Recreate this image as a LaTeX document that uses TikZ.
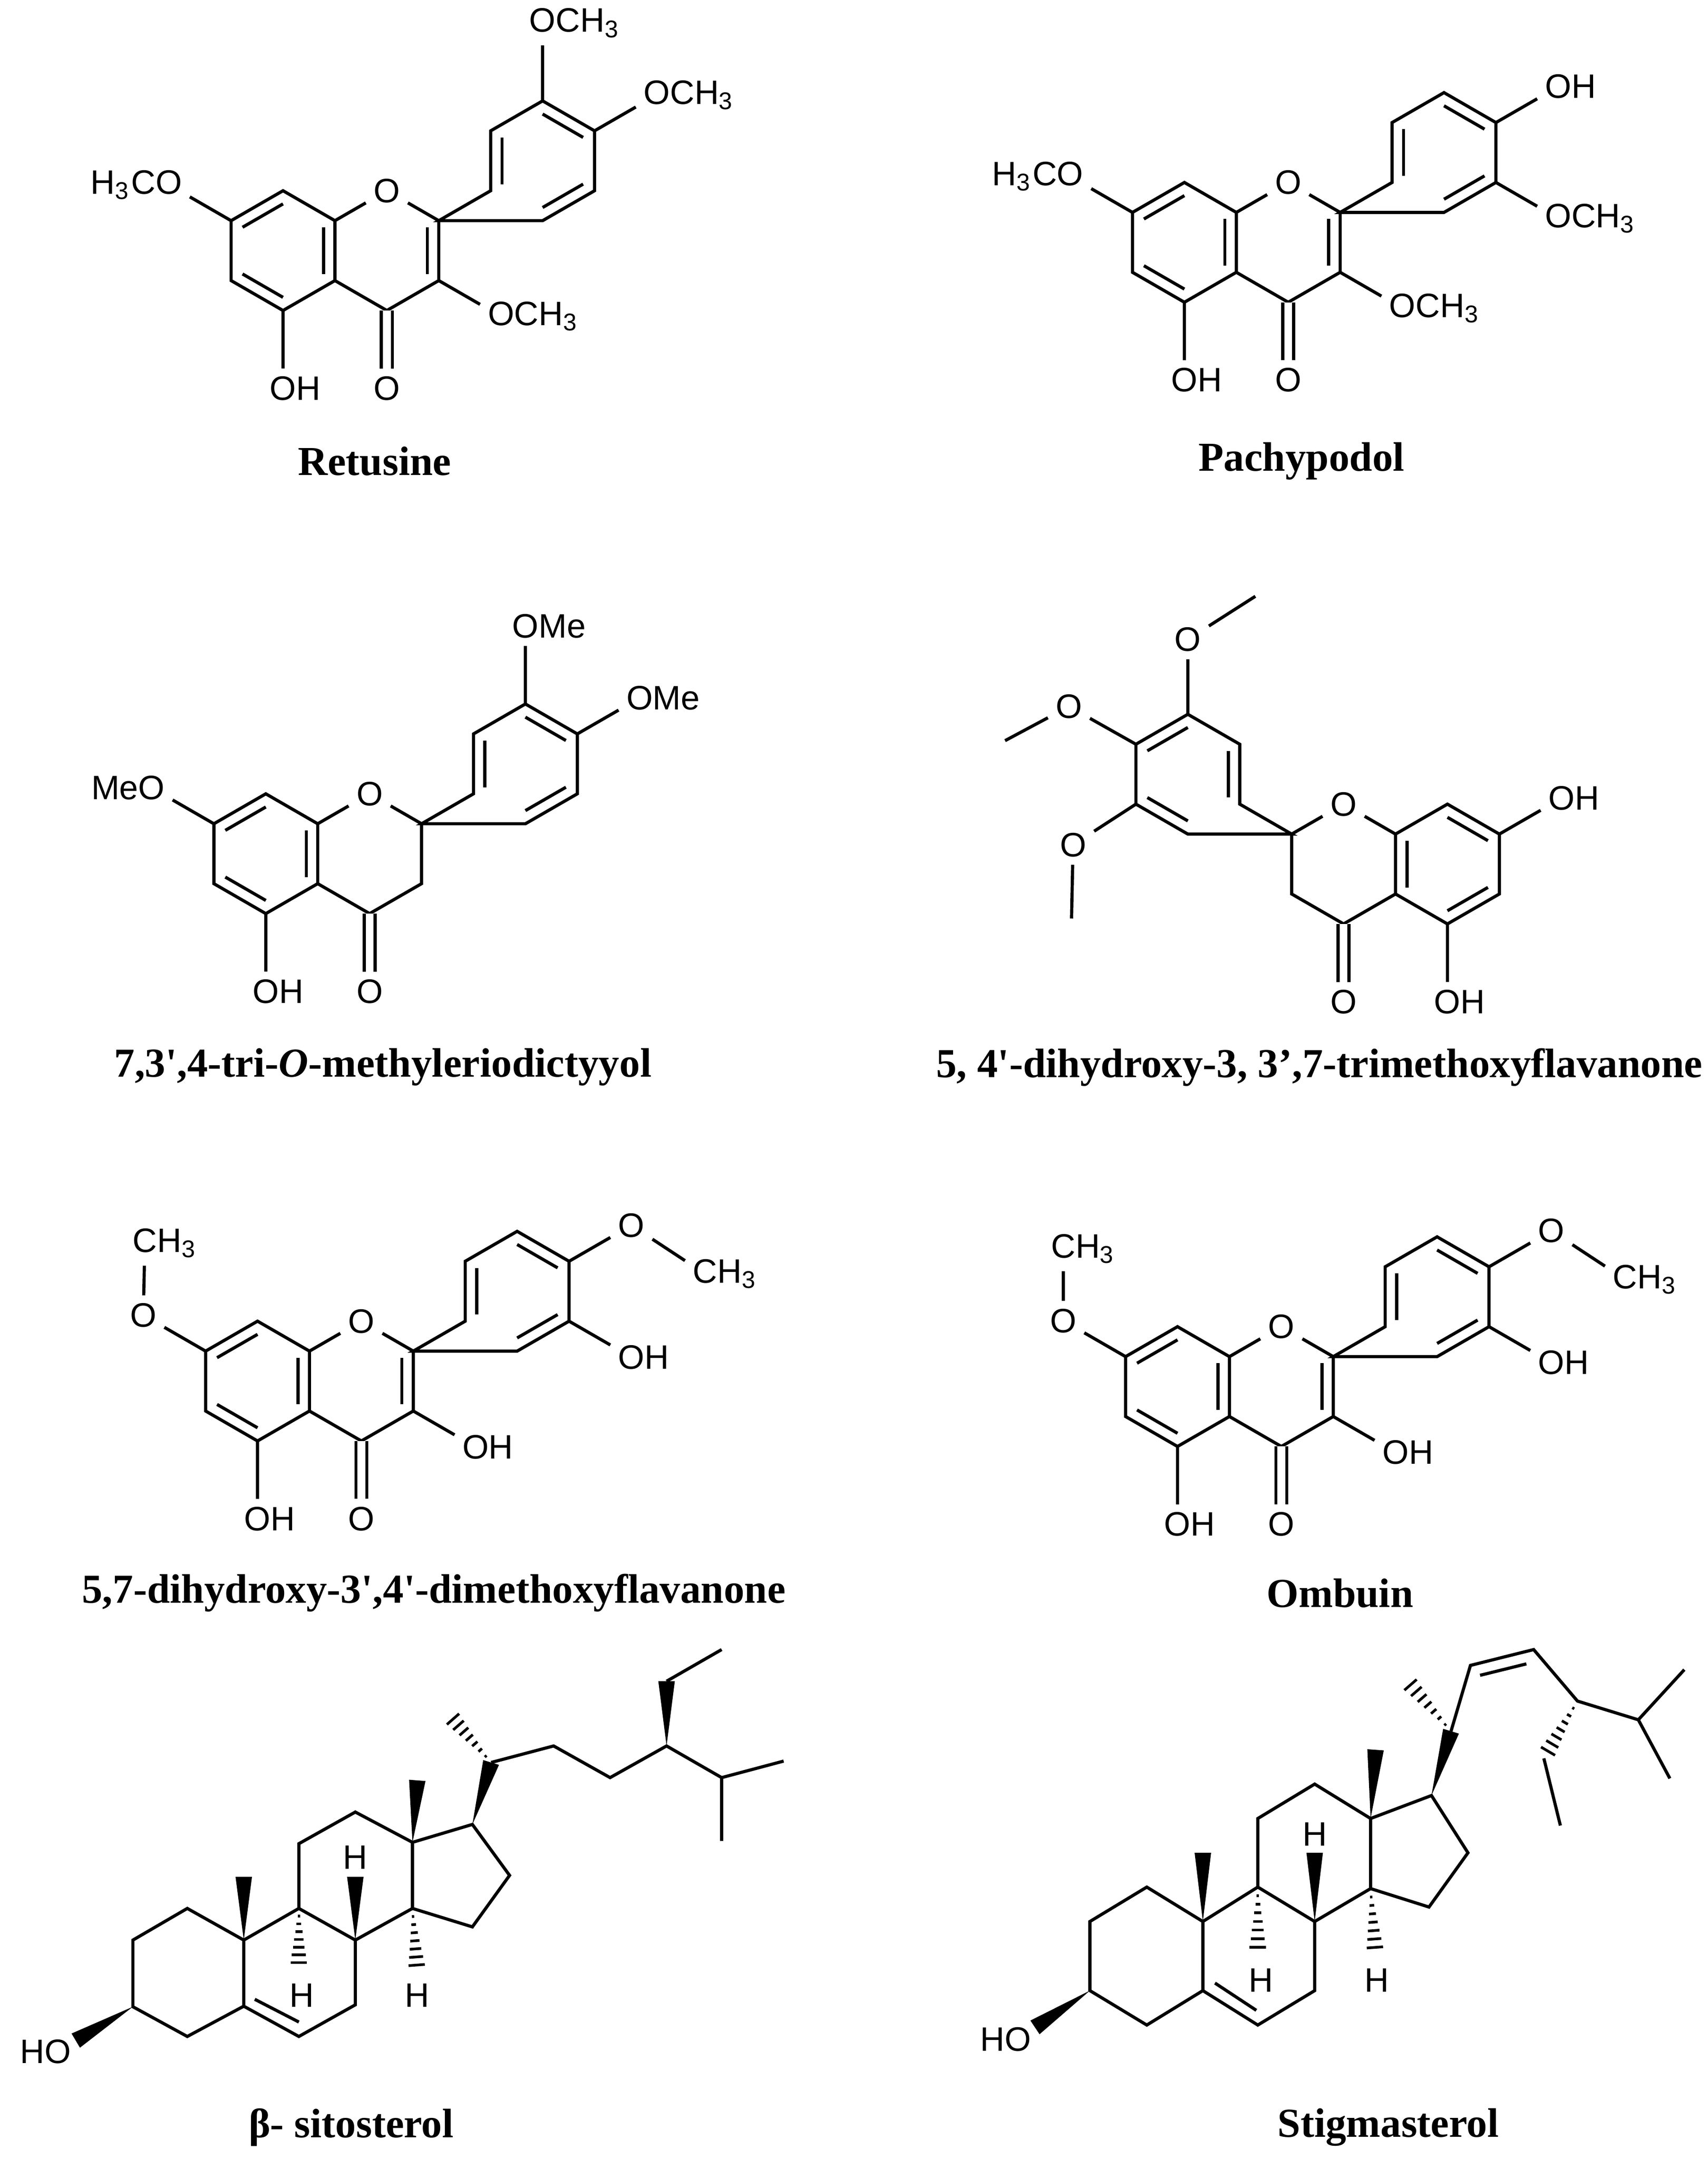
\documentclass[tikz,border=0pt]{standalone}
\usepackage{fontspec}
\setmainfont{Liberation Sans}
\newfontfamily\namefont{Liberation Serif}
\usetikzlibrary{calc}
\tikzset{
	atom/.style={font=\fontsize{7}{8}\selectfont, inner sep=1.3pt},
	molname/.style={font=\namefont\fontsize{8.5}{10}\selectfont\bfseries, inner sep=0pt}
}
\def\bb{43.5}
\def\hh{37.7}
% inner line of a ring double bond
\newcommand{\dbl}[3]{\draw ($(#1)!0.22!(#3)$) -- ($(#2)!0.22!(#3)$);}
\newcommand{\wedgebond}[2]{\fill (#1) -- ($(#2)!1.7pt!90:(#1)$) -- ($(#2)!1.7pt!-90:(#1)$) -- cycle;}
\newcommand{\hashbond}[2]{\foreach \k in {1,...,7}{
		\coordinate (hp) at ($(#1)!\k/8!(#2)$);
		\draw[line width=0.55pt] ($(hp)!\k*0.24pt!90:(#2)$) -- ($(hp)!\k*0.24pt!-90:(#2)$);}}
% flavonoid skeleton, #1=1 for the C2=C3 double bond
\newcommand{\flavcore}[1]{
	\coordinate (a0) at (0,0);
	\coordinate (c8) at (0,{-\bb});
	\coordinate (c8a) at (\hh,{-0.5*\bb});
	\coordinate (c4a) at (\hh,{0.5*\bb});
	\coordinate (c5) at (0,\bb);
	\coordinate (c6) at ({-\hh},{0.5*\bb});
	\coordinate (c7) at ({-\hh},{-0.5*\bb});
	\coordinate (r0) at ({2*\hh},0);
	\node[atom] (o1) at ({2*\hh},{-\bb}) {O};
	\coordinate (c2) at ({3*\hh},{-0.5*\bb});
	\coordinate (c3) at ({3*\hh},{0.5*\bb});
	\coordinate (c4) at ({2*\hh},\bb);
	\coordinate (p0) at ({5*\hh},{-1.5*\bb});
	\coordinate (p1) at ({4*\hh},{-\bb});
	\coordinate (p2) at ({4*\hh},{-2*\bb});
	\coordinate (p3) at ({5*\hh},{-2.5*\bb});
	\coordinate (p4) at ({6*\hh},{-2*\bb});
	\coordinate (p5) at ({6*\hh},{-\bb});
	\coordinate (p6) at ({5*\hh},{-0.5*\bb});
	\node[atom] (oc) at ({2*\hh},{2.3*\bb}) {O};
	\draw (c8a) -- (c8) -- (c7) -- (c6) -- (c5) -- (c4a) -- cycle;
	\draw (c8a) -- (o1) -- (c2) -- (c3) -- (c4) -- (c4a);
	\draw (c2) -- (p1) -- (p2) -- (p3) -- (p4) -- (p5) -- (p6) -- cycle;
	\draw[double, double distance=1.6pt] (c4) -- (oc);
	\dbl{c7}{c8}{a0} \dbl{c8a}{c4a}{a0} \dbl{c5}{c6}{a0}
	\dbl{p1}{p2}{p0} \dbl{p3}{p4}{p0} \dbl{p5}{p6}{p0}
	\ifnum#1=1 \dbl{c2}{c3}{r0}\fi
}

\begin{document}
\begin{tikzpicture}[x=0.01cm, y=-0.01cm, line width=0.65pt]
	\useasboundingbox (0,0) rectangle (1240,1568);
	
	% Retusine
	\begin{scope}[shift={(205.5,182)}]
		\flavcore{1}
		\node[atom] (o7) at ({-2.2*\hh},{-1.1*\bb}) {\llap{H\textsubscript{3}C}O};
		\node[atom] (o5) at (0,{2.3*\bb}) {O\rlap{H}};
		\node[atom] (o3) at ({4.2*\hh},{1.1*\bb}) {O\rlap{CH\textsubscript{3}}};
		\node[atom] (o3p) at ({5*\hh},{-3.8*\bb}) {O\rlap{CH\textsubscript{3}}};
		\node[atom] (o4p) at ({7.2*\hh},{-2.6*\bb}) {O\rlap{CH\textsubscript{3}}};
		\draw (c7) -- (o7) (c5) -- (o5) (c3) -- (o3) (p3) -- (o3p) (p4) -- (o4p);
	\end{scope}
	\node[molname] (nretusine) at (272,335) {Retusine};
	
	% Pachypodol
	\begin{scope}[shift={(860,176)}]
		\flavcore{1}
		\node[atom] (o7) at ({-2.2*\hh},{-1.1*\bb}) {\llap{H\textsubscript{3}C}O};
		\node[atom] (o5) at (0,{2.3*\bb}) {O\rlap{H}};
		\node[atom] (o3) at ({4.2*\hh},{1.1*\bb}) {O\rlap{CH\textsubscript{3}}};
		\node[atom] (o4p) at ({7.2*\hh},{-2.6*\bb}) {O\rlap{H}};
		\node[atom] (o3p) at ({7.2*\hh},{-0.4*\bb}) {O\rlap{CH\textsubscript{3}}};
		\draw (c7) -- (o7) (c5) -- (o5) (c3) -- (o3) (p4) -- (o4p) (p5) -- (o3p);
	\end{scope}
	\node[molname] (npachypodol) at (945,335) {Pachypodol};
	
	% tri-O-methyleriodictyol
	\begin{scope}[shift={(193,620)}]
		\flavcore{0}
		\node[atom] (o7) at ({-2.2*\hh},{-1.1*\bb}) {\llap{Me}O};
		\node[atom] (o5) at (0,{2.3*\bb}) {O\rlap{H}};
		\node[atom] (o3p) at ({5*\hh},{-3.8*\bb}) {O\rlap{Me}};
		\node[atom] (o4p) at ({7.2*\hh},{-2.6*\bb}) {O\rlap{Me}};
		\draw (c7) -- (o7) (c5) -- (o5) (p3) -- (o3p) (p4) -- (o4p);
	\end{scope}
	\node[molname] (neriodictyol) at (278,775) {7,3\textquotesingle,4-tri-\textit{O}-methyleriodictyyol};
	
	% trimethoxyflavanone, drawn mirrored
	\begin{scope}[shift={(1051,627.5)}, xscale=-1]
		\flavcore{0}
		\node[atom] (o7) at ({-2.2*\hh},{-1.1*\bb}) {O\rlap{H}};
		\node[atom] (o5) at (0,{2.3*\bb}) {O\rlap{H}};
		\node[atom] (o3p) at ({5*\hh},{-3.75*\bb}) {O};
		\node[atom] (o4p) at ({7.29*\hh},{-2.63*\bb}) {O};
		\node[atom] (o5p) at ({7.21*\hh},{-0.32*\bb}) {O};
		\coordinate (m3) at ({3.7*\hh},{-4.47*\bb});
		\coordinate (m4) at ({8.52*\hh},{-2.06*\bb});
		\coordinate (m5) at ({7.24*\hh},{0.91*\bb});
		\draw (c7) -- (o7) (c5) -- (o5);
		\draw (p3) -- (o3p) -- (m3) (p4) -- (o4p) -- (m4) (p5) -- (o5p) -- (m5);
	\end{scope}
	\node[molname] (ntrimethoxy) at (958,775) {5, 4\textquotesingle-dihydroxy-3, 3’,7-trimethoxyflavanone};
	
	% dihydroxy-dimethoxyflavanone
	\begin{scope}[shift={(187,1003)}]
		\flavcore{1}
		\node[atom] (o7) at ({-2.2*\hh},{-1.1*\bb}) {O};
		\node[atom] (m7) at ({-2.17*\hh},{-2.3*\bb}) {C\rlap{H\textsubscript{3}}};
		\node[atom] (o5) at (0,{2.3*\bb}) {O\rlap{H}};
		\node[atom] (o3) at ({4.2*\hh},{1.1*\bb}) {O\rlap{H}};
		\node[atom] (o4p) at ({7.2*\hh},{-2.6*\bb}) {O};
		\node[atom] (m4) at ({8.62*\hh},{-1.79*\bb}) {C\rlap{H\textsubscript{3}}};
		\node[atom] (o3p) at ({7.2*\hh},{-0.4*\bb}) {O\rlap{H}};
		\draw (c7) -- (o7) -- (m7) (c5) -- (o5) (c3) -- (o3);
		\draw (p4) -- (o4p) -- (m4) (p5) -- (o3p);
	\end{scope}
	\node[molname] (ndimethoxy) at (315,1157) {5,7-dihydroxy-3\textquotesingle,4\textquotesingle-dimethoxyflavanone};
	
	% Ombuin
	\begin{scope}[shift={(855,1007)}]
		\flavcore{1}
		\node[atom] (o7) at ({-2.2*\hh},{-1.1*\bb}) {O};
		\node[atom] (m7) at ({-2.2*\hh},{-2.3*\bb}) {C\rlap{H\textsubscript{3}}};
		\node[atom] (o5) at (0,{2.3*\bb}) {O\rlap{H}};
		\node[atom] (o3) at ({4.2*\hh},{1.1*\bb}) {O\rlap{H}};
		\node[atom] (o4p) at ({7.2*\hh},{-2.6*\bb}) {O};
		\node[atom] (m4) at ({8.62*\hh},{-1.79*\bb}) {C\rlap{H\textsubscript{3}}};
		\node[atom] (o3p) at ({7.2*\hh},{-0.4*\bb}) {O\rlap{H}};
		\draw (c7) -- (o7) -- (m7) (c5) -- (o5) (c3) -- (o3);
		\draw (p4) -- (o4p) -- (m4) (p5) -- (o3p);
	\end{scope}
	\node[molname] (nombuin) at (973,1157) {Ombuin};
	
	% beta-sitosterol
	\coordinate (s1) at (136,1386);    \coordinate (s2) at (96.5,1409);
	\coordinate (s3) at (96.5,1457.4); \coordinate (s4) at (136,1479);
	\coordinate (s5) at (177,1457);    \coordinate (s6) at (217,1479);
	\coordinate (s7) at (258,1456);    \coordinate (s8) at (258,1409);
	\coordinate (s9) at (217,1386);    \coordinate (s10) at (177,1409);
	\coordinate (s11) at (217,1339);   \coordinate (s12) at (258,1316);
	\coordinate (s13) at (299.5,1338); \coordinate (s14) at (299.5,1386);
	\coordinate (s15) at (343,1399.4); \coordinate (s16) at (370,1362);
	\coordinate (s17) at (343,1325);   \coordinate (s18) at (303,1293);
	\coordinate (s19) at (177,1363);   \coordinate (s20) at (356.6,1280);
	\coordinate (s21) at (325,1244);   \coordinate (s22) at (402,1268);
	\coordinate (s23) at (443,1291);   \coordinate (s24) at (484,1268);
	\coordinate (s28) at (484,1221);   \coordinate (s29) at (524,1198);
	\coordinate (s25) at (524,1291);   \coordinate (s26) at (569,1279);
	\coordinate (s27) at (524,1337);
	\coordinate (sh8) at (258,1363);   \coordinate (sh9) at (217,1431);
	\coordinate (sh14) at (303,1433);  \coordinate (sho) at (55,1482);
	\draw (s10) -- (s1) -- (s2) -- (s3) -- (s4) -- (s5) -- cycle;
	\draw (s5) -- (s6) -- (s7) -- (s8) -- (s9) -- (s10);
	\draw (s9) -- (s11) -- (s12) -- (s13) -- (s14) -- (s8);
	\draw (s13) -- (s17) -- (s16) -- (s15) -- (s14);
	\draw (s20) -- (s22) -- (s23) -- (s24) -- (s25) -- (s26) (s25) -- (s27) (s28) -- (s29);
	\draw (185,1452) -- (217,1468.5);
	\wedgebond{s10}{s19} \wedgebond{s13}{s18} \wedgebond{s8}{sh8}
	\wedgebond{s17}{s20} \wedgebond{s24}{s28} \wedgebond{s3}{sho}
	\hashbond{s9}{sh9} \hashbond{s14}{sh14} \hashbond{s20}{s21}
	\node[atom] (sth8) at (258,1349) {H};
	\node[atom] (sth9) at (219,1449) {H};
	\node[atom] (sth14) at (303,1449) {H};
	\node[atom] (stho) at (42,1490) {\llap{H}O};
	\node[molname] (nsitosterol) at (255,1545) {β- sitosterol};
	
	% Stigmasterol
	\coordinate (t1) at (832.7,1370.5);  \coordinate (t2) at (791.4,1395.5);
	\coordinate (t3) at (791.4,1445.7);  \coordinate (t4) at (832.7,1470.7);
	\coordinate (t5) at (873.4,1445.7);  \coordinate (t6) at (913.3,1470.7);
	\coordinate (t7) at (954.6,1445.7);  \coordinate (t8) at (954.6,1395.5);
	\coordinate (t9) at (913.3,1370.5);  \coordinate (t10) at (873.4,1395.5);
	\coordinate (t11) at (913.3,1320.7); \coordinate (t12) at (954.6,1295.7);
	\coordinate (t13) at (995.2,1320.7); \coordinate (t14) at (995.2,1371.6);
	\coordinate (t15) at (1037.6,1385);  \coordinate (t16) at (1065.9,1345.6);
	\coordinate (t17) at (1039.4,1304);  \coordinate (t18) at (998.8,1270.8);
	\coordinate (t19) at (873.4,1345.6); \coordinate (t20) at (1053.6,1257.3);
	\coordinate (t21) at (1020,1218.8);  \coordinate (t22) at (1067.7,1209.5);
	\coordinate (t23) at (1113.6,1198);  \coordinate (t24) at (1145.4,1235.4);
	\coordinate (t28) at (1121,1277);    \coordinate (t29) at (1133,1325.8);
	\coordinate (t25) at (1189.6,1249);  \coordinate (t26) at (1223,1212.6);
	\coordinate (t27) at (1212.5,1291.6);
	\coordinate (th8) at (954.6,1345.6); \coordinate (th9) at (913.3,1420.4);
	\coordinate (th14) at (998.8,1420.4); \coordinate (tho) at (751.5,1472.4);
	\draw (t10) -- (t1) -- (t2) -- (t3) -- (t4) -- (t5) -- cycle;
	\draw (t5) -- (t6) -- (t7) -- (t8) -- (t9) -- (t10);
	\draw (t9) -- (t11) -- (t12) -- (t13) -- (t14) -- (t8);
	\draw (t13) -- (t17) -- (t16) -- (t15) -- (t14);
	\draw (t20) -- (t22) -- (t23) -- (t24) -- (t25) -- (t26) (t25) -- (t27) (t28) -- (t29);
	\draw (882.2,1440.2) -- (912.2,1460);
	\draw (1074.7,1216.7) -- (1108.3,1208.4);
	\wedgebond{t10}{t19} \wedgebond{t13}{t18} \wedgebond{t8}{th8}
	\wedgebond{t17}{t20} \wedgebond{t3}{tho}
	\hashbond{t9}{th9} \hashbond{t14}{th14} \hashbond{t20}{t21} \hashbond{t24}{t28}
	\node[atom] (tth8) at (954.6,1332) {H};
	\node[atom] (tth9) at (915.7,1438) {H};
	\node[atom] (tth14) at (999.8,1438) {H};
	\node[atom] (ttho) at (739,1481) {\llap{H}O};
	\node[molname] (nstigmasterol) at (1008,1545) {Stigmasterol};
\end{tikzpicture}
\end{document}
